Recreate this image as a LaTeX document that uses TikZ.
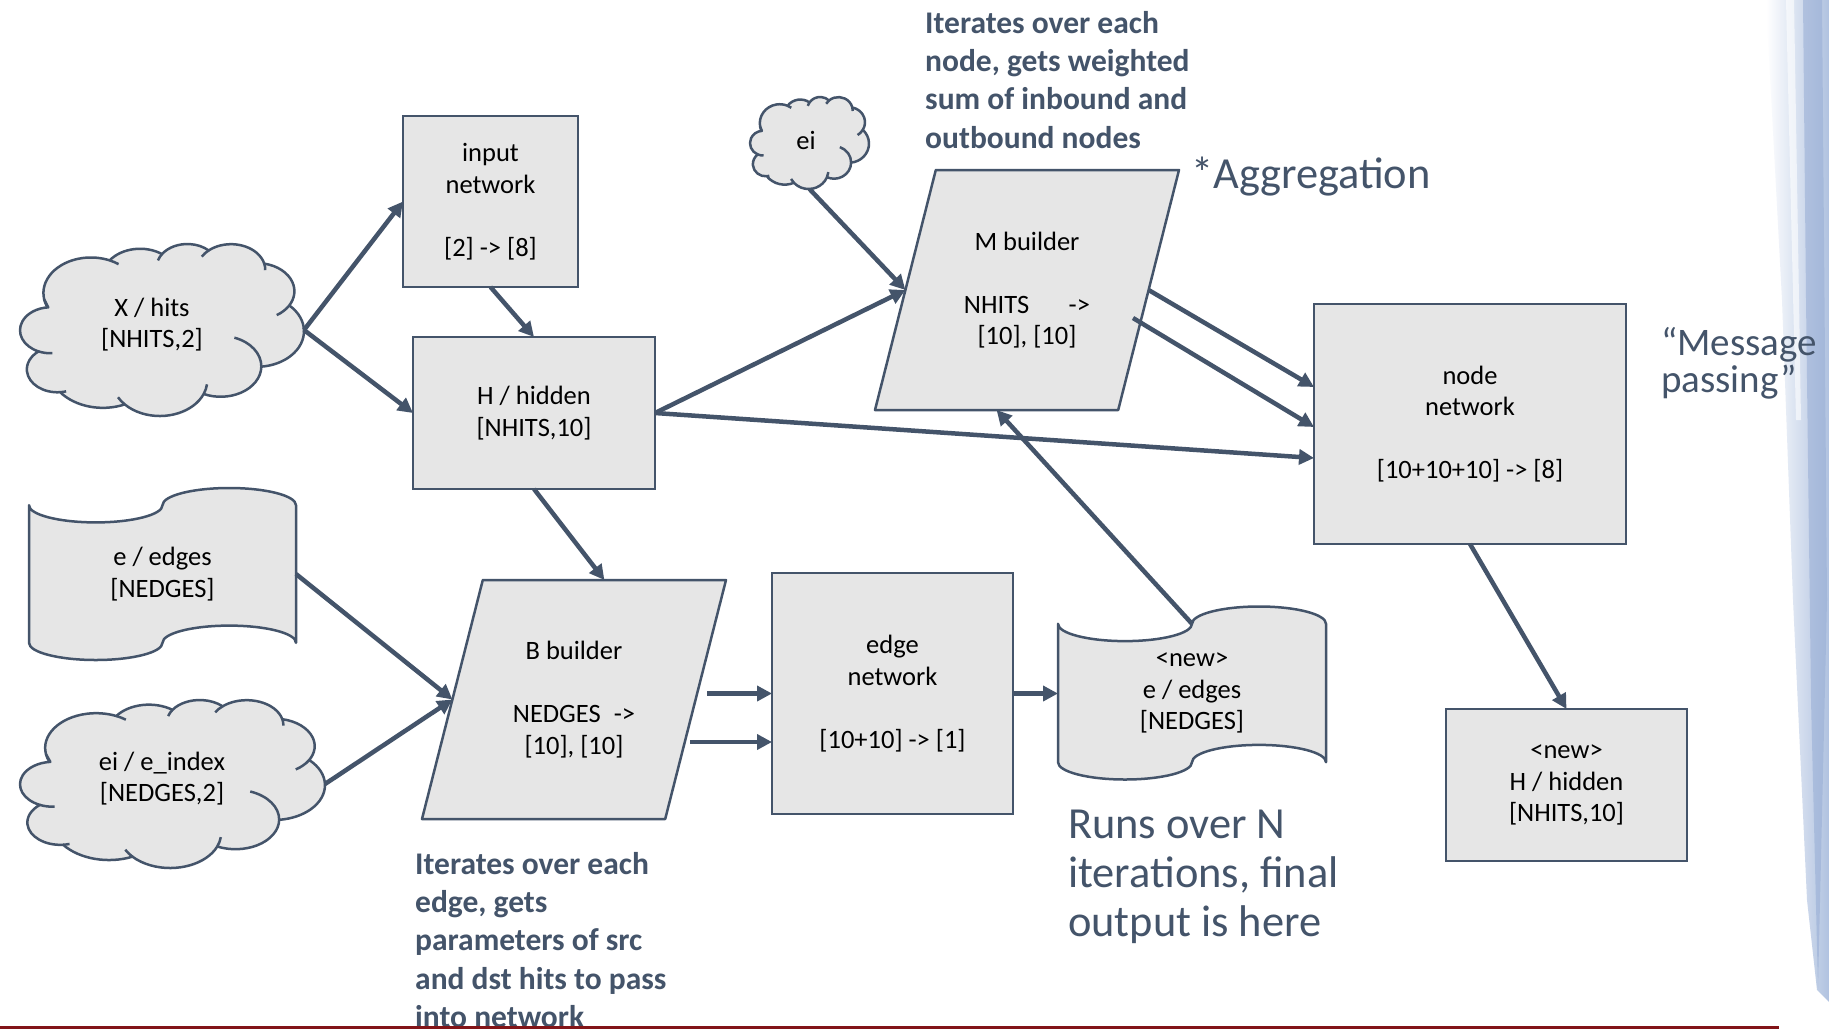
\documentclass[tikz,border=0pt]{standalone}
\usepackage{fontspec}
\setmainfont{Carlito}
\usetikzlibrary{arrows.meta,calc}
\pgfdeclarelayer{bg}
\pgfsetlayers{bg,main}

\definecolor{ink}{RGB}{68,84,106}
\definecolor{boxfill}{RGB}{230,230,230}
\definecolor{slidered}{RGB}{130,20,24}
\definecolor{streak}{RGB}{176,194,224}
\definecolor{streakdark}{RGB}{150,172,212}

\tikzset{
  holder/.style={inner sep=0pt, outer sep=0pt, align=center, font=\fontsize{26.5}{31.5}\selectfont},
  boxnode/.style={holder, draw=ink, fill=boxfill, line width=2.5pt},
  shapeline/.style={draw=ink, fill=boxfill, line width=2.5pt, line join=round},
  curlline/.style={draw=ink, line width=2.5pt},
  lbl/.style={inner sep=0pt, align=center, font=\fontsize{26.5}{31.5}\selectfont},
  conn/.style={draw=ink, line width=4.5pt, -{Triangle[length=15pt,width=15pt]}},
  annot/.style={text=ink, font=\bfseries\fontsize{31.5}{38.3}\selectfont, align=left, anchor=north west, inner sep=0pt},
  bigannot/.style={text=ink, font=\fontsize{44.4}{49}\selectfont, align=left, anchor=north west, inner sep=0pt},
  midannot/.style={text=ink, font=\fontsize{39}{37}\selectfont, align=left, anchor=north west, inner sep=0pt},
}

% cloud outline fitted to the bounding box of node #1 (width #2, height #3)
\newcommand\puffcloud[3]{%
  \begin{scope}[shift={(#1.north west)}, x={(#2pt,0pt)}, y={(0pt,-#3pt)}]
    \draw[shapeline] (0.08528,0.32267)
      arc[start angle=-190.4875, delta angle=123.7805, x radius=0.16719, y radius=0.20667]
      arc[start angle=-144.1024, delta angle=89.9452,  x radius=0.13203, y radius=0.16342]
      arc[start angle=-145.8079, delta angle=99.7230,  x radius=0.10807, y radius=0.13370]
      arc[start angle=-130.9861, delta angle=117.2417, x radius=0.12025, y radius=0.14831]
      arc[start angle=-78.7089,  delta angle=109.0269, x radius=0.13203, y radius=0.16356]
      arc[start angle=-46.2673,  delta angle=130.2690, x radius=0.16773, y radius=0.20734]
      arc[start angle=0.6250,    delta angle=114.0333, x radius=0.14322, y radius=0.17692]
      arc[start angle=22.4516,   delta angle=115.1726, x radius=0.16716, y radius=0.20723]
      arc[start angle=66.2426,   delta angle=75.7110,  x radius=0.19113, y radius=0.23710]
      arc[start angle=-274.9421, delta angle=146.7356, x radius=0.10794, y radius=0.13309]
      arc[start angle=-246.8285, delta angle=152.5189, x radius=0.10757, y radius=0.13370]
      -- cycle;
    \draw[curlline] (0.11368,0.63500) arc[start angle=86.742,   delta angle=26.430, x radius=0.10757, y radius=0.13370];
    \draw[curlline] (0.16249,0.85665) arc[start angle=73.610,   delta angle=11.447, x radius=0.10794, y radius=0.13309];
    \draw[curlline] (0.36887,0.93250) arc[start angle=137.624,  delta angle=14.081, x radius=0.16716, y radius=0.20723];
    \draw[curlline] (0.65842,0.81606) arc[start angle=6.453,    delta angle=15.998, x radius=0.16716, y radius=0.20723];
    \draw[curlline] (0.75487,0.54455) arc[start angle=-70.292,  delta angle=70.917, x radius=0.14322, y radius=0.17692];
    \draw[curlline] (0.94822,0.35707) arc[start angle=30.318,   delta angle=27.752, x radius=0.13203, y radius=0.16356];
    \draw[curlline] (0.86010,0.11411) arc[start angle=-13.744,  delta angle=14.859, x radius=0.12025, y radius=0.14831];
    \draw[curlline] (0.64001,0.07338) arc[start angle=-149.181, delta angle=18.195, x radius=0.12025, y radius=0.14831];
    \draw[curlline] (0.48583,0.09571) arc[start angle=-163.494, delta angle=17.686, x radius=0.10807, y radius=0.13370];
    \draw[curlline] (0.31579,0.09522) arc[start angle=-66.707,  delta angle=12.319, x radius=0.16719, y radius=0.20667];
    \draw[curlline] (0.09504,0.36360) arc[start angle=157.654,  delta angle=11.858, x radius=0.16719, y radius=0.20667];
  \end{scope}}

% punched-tape outline fitted to node #1 (width #2, height #3)
\newcommand\tapeoutline[3]{%
  \begin{scope}[shift={(#1.north west)}, x={(#2pt,0pt)}, y={(0pt,-#3pt)}]
    \draw[shapeline] (0,0.1)
      arc[start angle=180, delta angle=-180, x radius=0.25, y radius=0.1]
      arc[start angle=180, delta angle=180,  x radius=0.25, y radius=0.1]
      -- (1,0.9)
      arc[start angle=0, delta angle=-180, x radius=0.25, y radius=0.1]
      arc[start angle=0, delta angle=180,  x radius=0.25, y radius=0.1]
      -- cycle;
  \end{scope}}

% parallelogram outline in the box of node #1, slanted by #2
\newcommand\slantoutline[2]{%
  \draw[shapeline] ($(#1.north west)+(#2,0)$) -- (#1.north east)
    -- ($(#1.south east)+(-#2,0)$) -- (#1.south west) -- cycle;}

\begin{document}
\begin{tikzpicture}[x=1pt, y=-1pt]
  \useasboundingbox (0,0) rectangle (1829,1029);

  % ---- data and processing blocks
  \node[holder, minimum width=284pt, minimum height=172pt] (hits) at (162,330) {};
  \node[lbl] (hitstxt) at (152,324.5) {X / hits\\{}[NHITS,2]};

  \node[holder, minimum width=305pt, minimum height=168pt] (eidx) at (172.5,784) {};
  \node[lbl] (eidxtxt) at (162,778.5) {ei / e\_index\\{}[NEDGES,2]};

  \node[holder, minimum width=119pt, minimum height=92pt] (eic) at (809.5,143) {};
  \node[lbl] (eictxt) at (806,140) {ei};

  \node[holder, minimum width=267pt, minimum height=172pt] (edges) at (162.5,574) {e / edges\\{}[NEDGES]};
  \node[holder, minimum width=268pt, minimum height=173pt] (newedges) at (1192,693) {<new>\\e / edges\\{}[NEDGES]};

  \node[holder, minimum width=304pt, minimum height=239pt] (bb) at (574,699.5)
    {B builder\\[31.5pt]NEDGES\hspace{13pt}->\\{}[10], [10]};
  \node[holder, minimum width=304pt, minimum height=240pt] (mb) at (1027,290)
    {M builder\\[31.5pt]NHITS\hspace{39.5pt}->\\{}[10], [10]};

  \node[boxnode, minimum width=175pt, minimum height=171pt] (inp) at (490.5,201.5)
    {input\\network\\[31.5pt]{}[2] -> [8]};
  \node[boxnode, minimum width=242pt, minimum height=152pt] (hid) at (534,413)
    {H / hidden\\{}[NHITS,10]};
  \node[boxnode, minimum width=241pt, minimum height=241pt] (en) at (892.5,693.5)
    {edge\\network\\[31.5pt]{}[10+10] -> [1]};
  \node[boxnode, minimum width=312pt, minimum height=240pt] (nn) at (1470,424)
    {node\\network\\[31.5pt]{}[10+10+10] -> [8]};
  \node[boxnode, minimum width=241pt, minimum height=152pt] (nh) at (1566.5,785)
    {<new>\\H / hidden\\{}[NHITS,10]};

  % outlines behind the labels
  \begin{pgfonlayer}{bg}
    \fill[white] (0,0) rectangle (1829,1029);
    % slide decoration on the right edge
    \shade[left color=white, right color=streak]
      (1766,0) -- (1829,0) -- (1829,1002) -- (1817,990) -- (1807,900)
      -- (1793,600) -- (1782,300) -- cycle;
    \fill[streakdark, opacity=0.55]
      (1803,0) -- (1822,0) -- (1827,600) -- (1818,988) -- (1811,700) -- (1806,300) -- cycle;
    \fill[white, opacity=0.6]
      (1786,0) -- (1794,0) -- (1801,420) -- (1796,420) -- cycle;

    \puffcloud{hits}{284}{172}
    \puffcloud{eidx}{305}{168}
    \puffcloud{eic}{119}{92}
    \tapeoutline{edges}{267}{172}
    \tapeoutline{newedges}{268}{173}
    \slantoutline{bb}{60.8}
    \slantoutline{mb}{60.8}
  \end{pgfonlayer}

  % ---- connectors
  \draw[conn] (hits.east) -- (inp.west);
  \draw[conn] (hits.east) -- (hid.west);
  \draw[conn] (inp.south) -- (hid.north);
  \draw[conn] (hid.east) -- ($(mb.west)+(30.4,0)$);
  \draw[conn] (eic.south) -- ($(mb.west)+(30.4,0)$);
  \draw[conn] (hid.east) -- ($(nn.west)+(0,34)$);
  \draw[conn] ($(mb.east)+(-30.4,0)$) -- ($(nn.west)+(0,-37)$);
  \draw[conn] ($(mb.east)+(-46,28)$) -- ($(nn.west)+(0,3)$);
  \draw[conn] (hid.south) -- ($(bb.north)+(30.4,0)$);
  \draw[conn] (edges.east) -- ($(bb.west)+(30.4,0)$);
  \draw[conn] (eidx.east) -- ($(bb.west)+(30.4,0)$);
  \draw[conn] ($(bb.east)+(-19,-6)$) -- (en.west);
  \draw[conn] ($(bb.east)+(-36,42.5)$) -- ($(en.west)+(0,48.5)$);
  \draw[conn] (en.east) -- (en.east -| newedges.west);
  \draw[conn] ($(newedges.north)+(0,17.3)$) -- ($(mb.south)+(-30.4,0)$);
  \draw[conn] (nn.south) -- (nh.north);

  % ---- annotations
  \node[annot] (aggnote) at (925,11)
    {Iterates over each\\node, gets weighted\\sum of inbound and\\outbound nodes};
  \node[bigannot, anchor=base west] (aggr) at (1191,188) {*Aggregation};
  \node[midannot] (msg) at (1661,327) {“Message\\passing”};
  \node[bigannot] (runs) at (1068,810) {Runs over N\\iterations, final\\output is here};
  \node[annot] (edgenote) at (415,852)
    {Iterates over each\\edge, gets\\parameters of src\\and dst hits to pass\\into network};

  % slide footer rule
  \draw[slidered, line width=3pt] (0,1027) -- (1779,1027);
\end{tikzpicture}
\end{document}
